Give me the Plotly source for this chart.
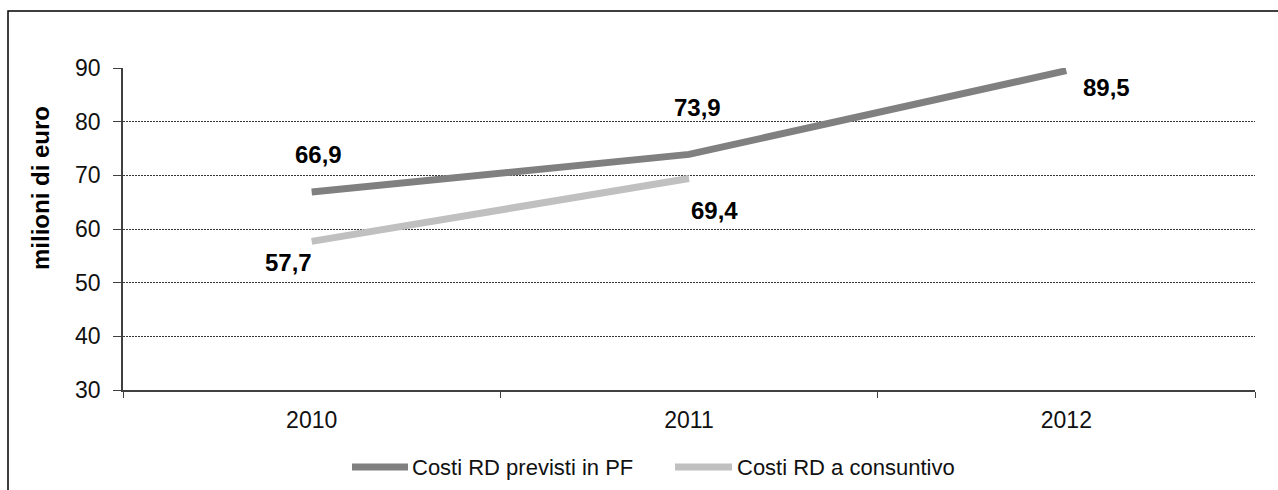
import plotly.graph_objects as go

# ---- data ----
years = ["2010", "2011", "2012"]
costi_previsti = [66.9, 73.9, 89.5]
costi_consuntivo = [57.7, 69.4, None]
series_names = ["Costi RD previsti in PF", "Costi RD a consuntivo"]
y_ticks = [30, 40, 50, 60, 70, 80, 90]
y_title = "milioni di euro"

# ---- style ----
FONT = "Liberation Sans, Arial, sans-serif"
COLORS = ["#808080", "#C0C0C0"]
W, H = 1278, 490
ML, MR, MT, MB = 123, 23, 68, 100
PW, PH = W - ML - MR, H - MT - MB
# label offsets (px) per series / point: (xshift, yshift)
LABEL_OFFSETS = [
    [(7, 37), (8, 47), (40, -17)],
    [(-23, -21), (25, -32), (0, 0)],
]
# custom legend layout (px): line start, line end, text start
LEGEND_ITEMS_PX = [(352, 408, 410), (675, 732, 735)]
LEGEND_Y_PX = 467


def px_to_paper_x(px):
    return (px - ML) / PW


def px_to_paper_y(py):
    return (H - MB - py) / PH


fig = go.Figure()
for name, vals, col in zip(series_names, [costi_previsti, costi_consuntivo], COLORS):
    fig.add_trace(go.Scatter(
        x=years, y=vals, name=name, mode="lines",
        line=dict(color=col, width=7),
        connectgaps=False, hoverinfo="skip", showlegend=False,
    ))

annotations = []
for s_idx, vals in enumerate([costi_previsti, costi_consuntivo]):
    for i, v in enumerate(vals):
        if v is None:
            continue
        dx, dy = LABEL_OFFSETS[s_idx][i]
        annotations.append(dict(
            x=i, y=v, xref="x", yref="y",
            text=f"<b>{v:.1f}</b>".replace(".", ","),
            showarrow=False, xshift=dx, yshift=dy,
            xanchor="center", yanchor="middle",
            font=dict(family=FONT, size=24, color="#000000"),
        ))

annotations.append(dict(
    x=px_to_paper_x(40), y=px_to_paper_y(188), xref="paper", yref="paper",
    text=f"<b>{y_title}</b>", textangle=-90, showarrow=False,
    font=dict(family=FONT, size=24, color="#000000"),
    xanchor="center", yanchor="middle",
))

shapes = [dict(
    type="rect", xref="paper", yref="paper",
    x0=px_to_paper_x(8), x1=px_to_paper_x(1300),
    y0=px_to_paper_y(520), y1=px_to_paper_y(11),
    line=dict(color="#000000", width=1.5), fillcolor="rgba(0,0,0,0)",
    layer="below",
)]

# custom legend
for name, col, (x0, x1, xt) in zip(series_names, COLORS, LEGEND_ITEMS_PX):
    shapes.append(dict(
        type="line", xref="paper", yref="paper",
        x0=px_to_paper_x(x0), x1=px_to_paper_x(x1),
        y0=px_to_paper_y(LEGEND_Y_PX), y1=px_to_paper_y(LEGEND_Y_PX),
        line=dict(color=col, width=7),
    ))
    annotations.append(dict(
        x=px_to_paper_x(xt), y=px_to_paper_y(LEGEND_Y_PX),
        xref="paper", yref="paper", text=name, showarrow=False,
        xanchor="left", yanchor="middle",
        font=dict(family=FONT, size=22, color="#111111"),
    ))

fig.update_layout(
    width=W, height=H,
    margin=dict(l=ML, r=MR, t=MT, b=MB, pad=0),
    paper_bgcolor="white", plot_bgcolor="white",
    font=dict(family=FONT, size=22, color="#111111"),
    showlegend=False,
    annotations=annotations,
    shapes=shapes,
)

fig.update_xaxes(
    type="category", range=[-0.5, 2.5],
    tickson="boundaries", ticks="outside", ticklen=6, tickwidth=1, tickcolor="#404040",
    showline=True, linecolor="#404040", linewidth=1.5,
    showgrid=False, zeroline=False, ticklabelstandoff=9,
    tickfont=dict(family=FONT, size=23, color="#111111"),
)
fig.update_yaxes(
    range=[30, 90], tickvals=y_ticks,
    ticks="outside", ticklen=8, tickwidth=1, tickcolor="#404040",
    showline=True, linecolor="#404040", linewidth=1.5,
    showgrid=True, gridcolor="#333333", gridwidth=1, griddash="2px,1px",
    zeroline=False, ticklabelstandoff=8,
    tickfont=dict(family=FONT, size=23, color="#111111"),
)

fig.write_html("out.html")
